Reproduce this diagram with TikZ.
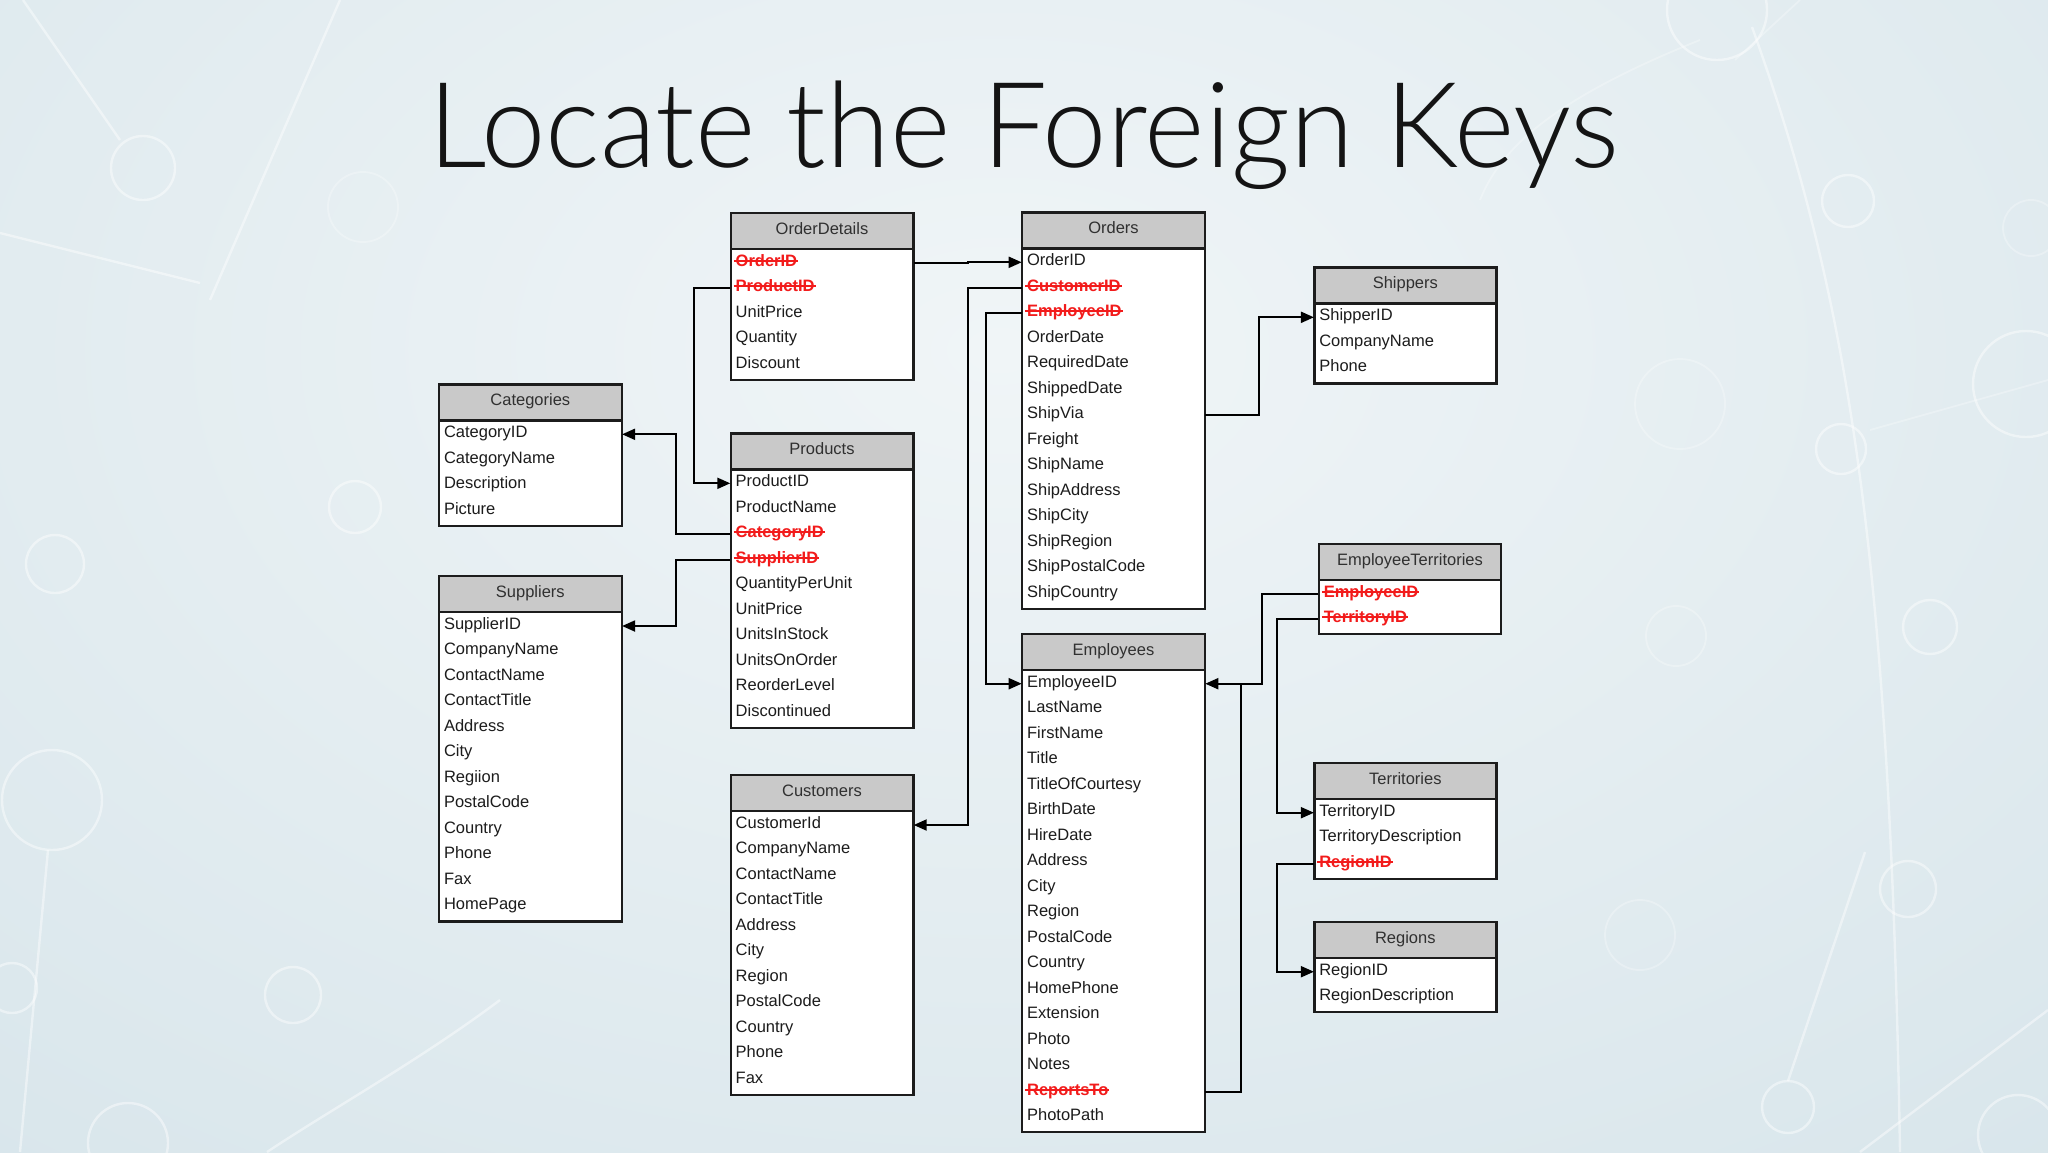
\documentclass[tikz,border=0pt]{standalone}
\usepackage{fontspec}
\setmainfont{Liberation Sans}
\newfontfamily\titlefont{Lato Light}
\usetikzlibrary{arrows.meta,calc}
\definecolor{hdrfill}{HTML}{C9C9C9}
\definecolor{hdrtext}{HTML}{303030}
\definecolor{fkred}{HTML}{F21B1B}
\definecolor{ink}{HTML}{1C1C1C}
\definecolor{bgin}{HTML}{F0F5F7}
\definecolor{bgout}{HTML}{C8DBE3}
\newcommand\tabfont{\fontsize{8.25pt}{9pt}\selectfont}
\newcommand\fkey[1]{{\color{fkred}\setbox0\hbox{\bfseries #1}\rlap{\kern-1pt\rule[2.3pt]{\dimexpr\wd0+1.5pt\relax}{0.95pt}}\box0}}
\tikzset{
  hdr/.style={draw=ink, line width=1.2pt, fill=hdrfill, text=hdrtext, inner sep=0pt, font=\tabfont, minimum height=18pt, text height=5.9pt, text depth=2.5pt},
  row/.style={inner xsep=2.5pt, inner ysep=0pt, align=left, font=\tabfont, text=ink, text height=5.9pt, text depth=2.5pt},
  frame/.style={draw=ink, line width=1.2pt, fill=white},
  conn/.style={draw=black, line width=1pt, line join=miter},
  arr/.style={-{Triangle[length=6.5pt,width=5.5pt]}},
  deco/.style={draw=white, line width=1.2pt, opacity=0.45},
  decof/.style={draw=white, line width=0.9pt, opacity=0.28},
}
\newcommand\dbtable[7]{%
  \pgfmathsetmacro\tbx{#2}\pgfmathsetmacro\tby{#3}\pgfmathsetmacro\tbw{#4}%
  \pgfmathsetmacro\tbhb{#3+36}%
  \pgfmathsetmacro\tbbot{#3+36+29+(#5-1)*25.5}%
  \pgfmathsetmacro\tbcx{#2+#4/2}%
  \pgfmathsetmacro\tbmw{#4*0.5}%
  \pgfmathsetmacro\tbtw{#4*0.5-5}%
  \draw[frame] (\tbx,\tbhb) rectangle (\tbx+\tbw,\tbbot);
  \node[hdr, minimum width=\tbmw pt] (#1-h) at (\tbcx,\tby+18) {#6};
  \foreach \t/\s [count=\i] in {#7} {
    \node[row, text width=\tbtw pt] (#1-\i) at (\tbcx,\tbhb+14+\i*25.5-25.5) {\ifnum\s=1 \fkey{\t}\else\t\fi};
  }
}
\begin{document}
\begin{tikzpicture}[x=0.5pt,y=-0.5pt]
\useasboundingbox (0,0) rectangle (2048,1152);
\begin{scope}
\clip (0,0) rectangle (2048,1152);
\shade[inner color=bgin, outer color=bgout] (-1800,-1450) rectangle (3800,2150);
% faint background decoration
\foreach \cx/\cy/\r in {143/168/32, 55/564/29, 52/800/50, 355/507/26, 12/988/25, 293/995/28, 128/1143/40,
  1717/10/50, 1848/201/26, 1841/449/25, 2026/384/53, 1930/627/27, 1908/889/28, 1788/1107/26, 2018/1135/40}
  \draw[deco] (\cx,\cy) circle (\r);
\foreach \cx/\cy/\r in {363/207/35, 2031/228/28, 1680/404/45, 1676/636/30, 1640/935/35}
  \draw[decof] (\cx,\cy) circle (\r);
\draw[deco] (1752,27) .. controls (1850,300) and (1890,560) .. (1900,1152);
\draw[deco] (340,0) -- (210,300);
\draw[deco] (23,0) -- (120,140);
\draw[deco] (0,233) -- (200,283);
\draw[deco] (48,850) -- (20,1152);
\draw[deco] (500,1000) .. controls (420,1060) and (330,1110) .. (267,1152);
\draw[deco] (1788,1081) -- (1865,852);
\draw[deco] (2048,1010) -- (1860,1152);
\draw[decof] (1735,60) -- (1800,0);
\draw[decof] (1870,430) -- (2048,380);
\draw[decof] (1700,40) .. controls (1550,100) and (1500,150) .. (1480,200);
\end{scope}

\node[anchor=base west, font=\titlefont\fontsize{59.5pt}{60pt}\selectfont, inner sep=0pt, text=black!92, xscale=0.972] (title) at (428,167) {Locate the Foreign Keys};

\dbtable{cat}{439}{384.3}{182.7}{4}{Categories}{CategoryID/0,CategoryName/0,Description/0,Picture/0}
\dbtable{sup}{439}{576}{182.7}{12}{Suppliers}{SupplierID/0,CompanyName/0,ContactName/0,ContactTitle/0,Address/0,City/0,Regiion/0,PostalCode/0,Country/0,Phone/0,Fax/0,HomePage/0}
\dbtable{od}{730.7}{212.7}{182.6}{5}{OrderDetails}{OrderID/1,ProductID/1,UnitPrice/0,Quantity/0,Discount/0}
\dbtable{prod}{730.7}{433.3}{182.6}{10}{Products}{ProductID/0,ProductName/0,CategoryID/1,SupplierID/1,QuantityPerUnit/0,UnitPrice/0,UnitsInStock/0,UnitsOnOrder/0,ReorderLevel/0,Discontinued/0}
\dbtable{cust}{730.7}{775}{182.6}{11}{Customers}{CustomerId/0,CompanyName/0,ContactName/0,ContactTitle/0,Address/0,City/0,Region/0,PostalCode/0,Country/0,Phone/0,Fax/0}
\dbtable{ord}{1022.1}{212.3}{182.8}{14}{Orders}{OrderID/0,CustomerID/1,EmployeeID/1,OrderDate/0,RequiredDate/0,ShippedDate/0,ShipVia/0,Freight/0,ShipName/0,ShipAddress/0,ShipCity/0,ShipRegion/0,ShipPostalCode/0,ShipCountry/0}
\dbtable{emp}{1022.1}{633.7}{182.8}{18}{Employees}{EmployeeID/0,LastName/0,FirstName/0,Title/0,TitleOfCourtesy/0,BirthDate/0,HireDate/0,Address/0,City/0,Region/0,PostalCode/0,Country/0,HomePhone/0,Extension/0,Photo/0,Notes/0,ReportsTo/1,PhotoPath/0}
\dbtable{shp}{1314.3}{267.3}{182}{3}{Shippers}{ShipperID/0,CompanyName/0,Phone/0}
\dbtable{et}{1318.8}{543.7}{182.4}{2}{EmployeeTerritories}{EmployeeID/1,TerritoryID/1}
\dbtable{ter}{1314.3}{762.7}{182}{3}{Territories}{TerritoryID/0,TerritoryDescription/0,RegionID/1}
\dbtable{reg}{1314.3}{921.7}{182}{2}{Regions}{RegionID/0,RegionDescription/0}

% bend coordinates
\coordinate (bOD) at (694.3,0);
\coordinate (bPC) at (676,0);
\coordinate (bJ)  at (967.7,0);
\coordinate (bCu) at (967.7,0);
\coordinate (bEm) at (986.2,0);
\coordinate (bSh) at (1259.2,0);
\coordinate (bET) at (1261.8,0);
\coordinate (bTe) at (1277.4,0);
\coordinate (bRp) at (1240.5,0);

\draw[conn,arr] (od-2.west) -- (od-2.west -| bOD) -- (prod-1.west -| bOD) -- (prod-1.west);
\draw[conn,arr] (prod-3.west) -- (prod-3.west -| bPC) -- (cat-1.east -| bPC) -- (cat-1.east);
\draw[conn,arr] (prod-4.west) -- (prod-4.west -| bPC) -- (sup-1.east -| bPC) -- (sup-1.east);
\draw[conn,arr] (od-1.east) -- (od-1.east -| bJ) -- (ord-1.west -| bJ) -- (ord-1.west);
\draw[conn,arr] (ord-2.west) -- (ord-2.west -| bCu) -- (cust-1.east -| bCu) -- (cust-1.east);
\draw[conn,arr] (ord-3.west) -- (ord-3.west -| bEm) -- (emp-1.west -| bEm) -- (emp-1.west);
\draw[conn,arr] (ord-7.east) -- (ord-7.east -| bSh) -- (shp-1.west -| bSh) -- (shp-1.west);
\draw[conn,arr] (et-1.west) -- (et-1.west -| bET) -- (emp-1.east -| bET) -- (emp-1.east);
\draw[conn,arr] (et-2.west) -- (et-2.west -| bTe) -- (ter-1.west -| bTe) -- (ter-1.west);
\draw[conn] (emp-17.east) -- (emp-17.east -| bRp) -- (emp-1.east -| bRp);
\draw[conn,arr] (ter-3.west) -- (ter-3.west -| bTe) -- (reg-1.west -| bTe) -- (reg-1.west);
\end{tikzpicture}
\end{document}
